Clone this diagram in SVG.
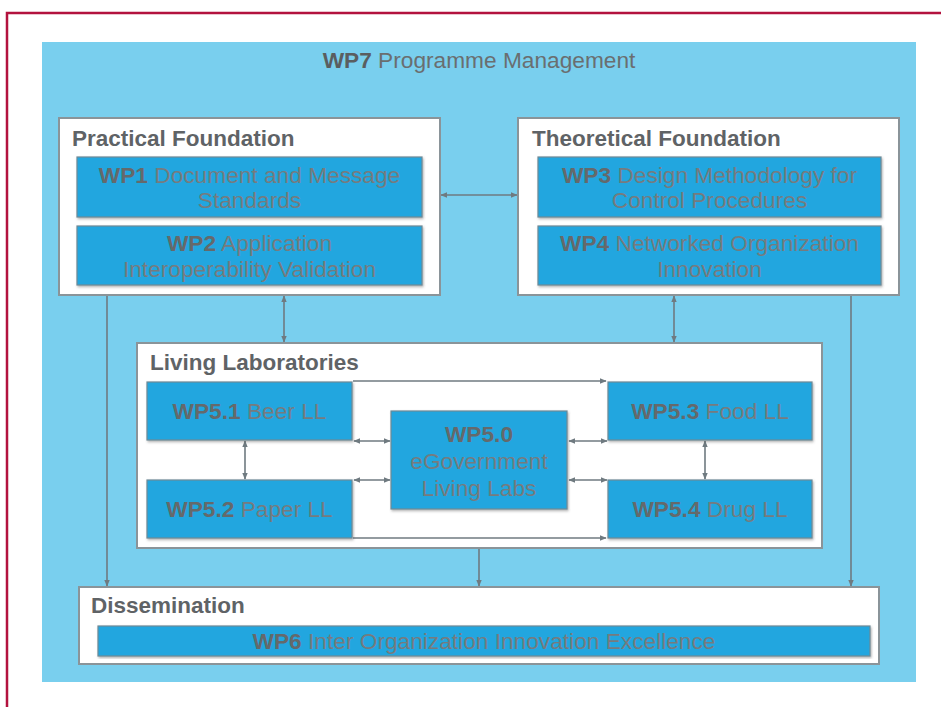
<svg xmlns="http://www.w3.org/2000/svg" width="941" height="707" viewBox="0 0 941 707">
<defs>
<marker id="ah" viewBox="0 0 10 10" refX="9" refY="5" markerWidth="7" markerHeight="7" orient="auto-start-reverse" markerUnits="userSpaceOnUse">
<path d="M0,1 L10,5 L0,9 z" fill="#6f7a80"/>
</marker>
<filter id="sh" x="-5%" y="-5%" width="110%" height="115%">
<feDropShadow dx="1" dy="1.5" stdDeviation="1" flood-color="#555" flood-opacity="0.45"/>
</filter>
</defs>
<style>
.frame{fill:none;stroke:#b3123e;stroke-width:2.5}
.bg{fill:#79cfee}
.group{fill:#ffffff;stroke:#8a9499;stroke-width:2}
.wp{fill:#22a6df;stroke:#6e8a97;stroke-width:1.2;filter:url(#sh)}
.title{font-family:"Liberation Sans",Arial,sans-serif;font-weight:bold;font-size:22.5px;fill:#5f6366}
.t{font-family:"Liberation Sans",Arial,sans-serif;font-size:22.7px;fill:#767b7e;text-anchor:middle}
.t tspan.b{font-weight:bold;fill:#65696b}
.top{font-family:"Liberation Sans",Arial,sans-serif;font-size:22.7px;fill:#6a6e70;text-anchor:middle}
.top tspan.b{font-weight:bold;fill:#5a5e60}
.c{fill:none;stroke:#6f7a80;stroke-width:1.6}
</style>
<path class="frame" d="M7,707 L7,13 L941,13"/>
<rect class="bg" x="42" y="42" width="874" height="640"/>
<text class="top" x="479" y="68"><tspan class="b">WP7</tspan> Programme Management</text>

<g id="connectors">
<line class="c" x1="441" y1="195" x2="517" y2="195" marker-start="url(#ah)" marker-end="url(#ah)"/>
<line class="c" x1="284" y1="296" x2="284" y2="342" marker-start="url(#ah)" marker-end="url(#ah)"/>
<line class="c" x1="674" y1="296" x2="674" y2="342" marker-start="url(#ah)" marker-end="url(#ah)"/>
<line class="c" x1="107" y1="295" x2="107" y2="586" marker-end="url(#ah)"/>
<line class="c" x1="851" y1="295" x2="851" y2="586" marker-end="url(#ah)"/>
<line class="c" x1="479" y1="548" x2="479" y2="586" marker-end="url(#ah)"/>
</g>

<g id="practical">
<rect class="group" x="59" y="118" width="381" height="177"/>
<text class="title" x="72" y="146">Practical Foundation</text>
</g>
<g id="wp1">
<rect class="wp" x="77" y="157" width="345" height="60"/>
<text class="t" x="249.5" y="183"><tspan class="b">WP1</tspan> Document and Message</text>
<text class="t" x="249.5" y="208">Standards</text>
</g>
<g id="wp2">
<rect class="wp" x="77" y="226" width="345" height="59"/>
<text class="t" x="249.5" y="251"><tspan class="b">WP2</tspan> Application</text>
<text class="t" x="249.5" y="277">Interoperability Validation</text>
</g>

<g id="theoretical">
<rect class="group" x="518" y="118" width="381" height="177"/>
<text class="title" x="532" y="146">Theoretical Foundation</text>
</g>
<g id="wp3">
<rect class="wp" x="538" y="157" width="343" height="60"/>
<text class="t" x="709.5" y="183"><tspan class="b">WP3</tspan> Design Methodology for</text>
<text class="t" x="709.5" y="208">Control Procedures</text>
</g>
<g id="wp4">
<rect class="wp" x="538" y="226" width="343" height="59"/>
<text class="t" x="709.5" y="251"><tspan class="b">WP4</tspan> Networked Organization</text>
<text class="t" x="709.5" y="277">Innovation</text>
</g>

<g id="livinglabs">
<rect class="group" x="137" y="343" width="685" height="205"/>
<text class="title" x="150" y="370">Living Laboratories</text>
</g>

<g id="ll-connectors">
<line class="c" x1="353" y1="381" x2="606" y2="381" marker-end="url(#ah)"/>
<line class="c" x1="353" y1="538" x2="606" y2="538" marker-end="url(#ah)"/>
<line class="c" x1="354" y1="441" x2="390" y2="441" marker-start="url(#ah)" marker-end="url(#ah)"/>
<line class="c" x1="354" y1="480" x2="390" y2="480" marker-start="url(#ah)" marker-end="url(#ah)"/>
<line class="c" x1="569" y1="441" x2="607" y2="441" marker-start="url(#ah)" marker-end="url(#ah)"/>
<line class="c" x1="569" y1="480" x2="607" y2="480" marker-start="url(#ah)" marker-end="url(#ah)"/>
<line class="c" x1="245" y1="441" x2="245" y2="479" marker-start="url(#ah)" marker-end="url(#ah)"/>
<line class="c" x1="705" y1="441" x2="705" y2="479" marker-start="url(#ah)" marker-end="url(#ah)"/>
</g>

<g id="wp51">
<rect class="wp" x="147" y="382" width="205" height="58"/>
<text class="t" x="249.5" y="419"><tspan class="b">WP5.1</tspan> Beer LL</text>
</g>
<g id="wp52">
<rect class="wp" x="147" y="480" width="205" height="58"/>
<text class="t" x="249.5" y="517"><tspan class="b">WP5.2</tspan> Paper LL</text>
</g>
<g id="wp50">
<rect class="wp" x="391" y="411" width="176" height="98"/>
<text class="t" x="479" y="442"><tspan class="b">WP5.0</tspan></text>
<text class="t" x="479" y="469">eGovernment</text>
<text class="t" x="479" y="496">Living Labs</text>
</g>
<g id="wp53">
<rect class="wp" x="608" y="382" width="204" height="58"/>
<text class="t" x="710" y="419"><tspan class="b">WP5.3</tspan> Food LL</text>
</g>
<g id="wp54">
<rect class="wp" x="608" y="480" width="204" height="58"/>
<text class="t" x="710" y="517"><tspan class="b">WP5.4</tspan> Drug LL</text>
</g>

<g id="dissemination">
<rect class="group" x="79" y="587" width="800" height="77"/>
<text class="title" x="91" y="613">Dissemination</text>
</g>
<g id="wp6">
<rect class="wp" x="98" y="626" width="772" height="30"/>
<text class="t" x="484" y="649"><tspan class="b">WP6</tspan> Inter Organization Innovation Excellence</text>
</g>
</svg>
